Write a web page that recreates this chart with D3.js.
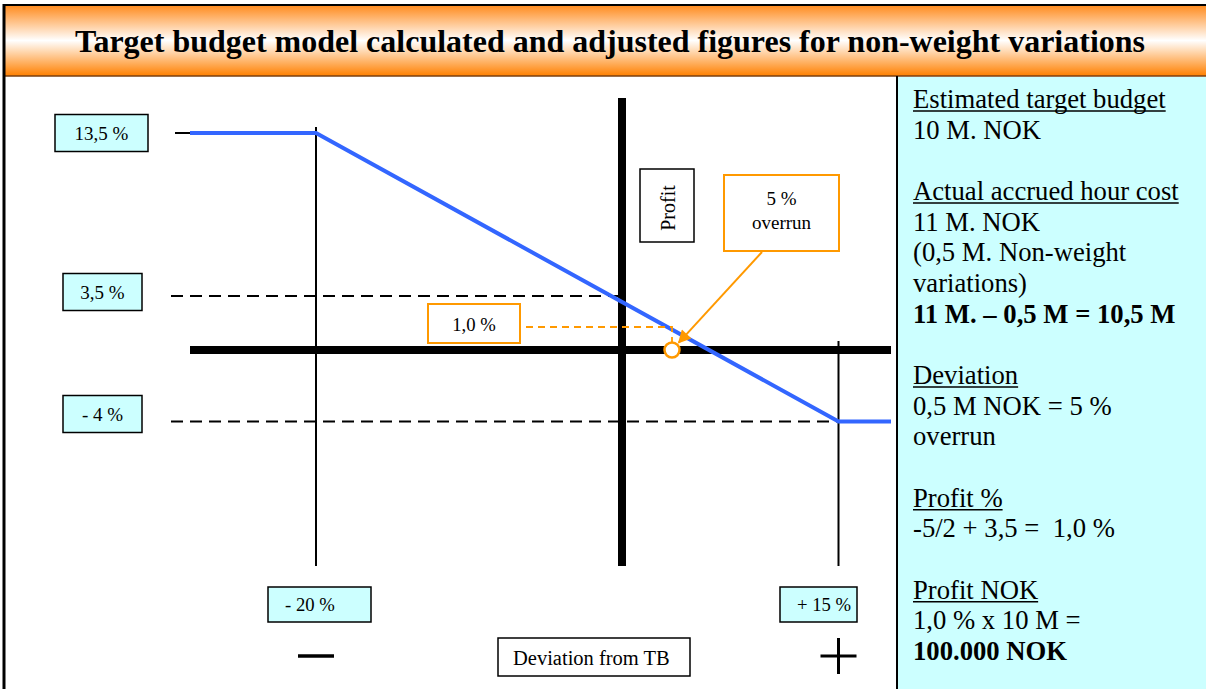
<!DOCTYPE html>
<html><head><meta charset="utf-8">
<script src="https://cdn.jsdelivr.net/npm/d3@7"></script>
<style>
body{margin:0;background:#fff}
svg{display:block}
text{font-family:"Liberation Serif","Times New Roman",Times,"DejaVu Serif",serif;white-space:pre}
</style>
</head><body>
<svg id="c" width="1206" height="689"></svg>
<script>
// ---------------- data ----------------
const titleText = "Target budget model calculated and adjusted figures for non-weight variations";
const profitLineX = [-28, -20, 15, 18.5];     // deviation from TB (%)
const profitLineY = [13.5, 13.5, -4, -4];     // profit (%)
const yLabelValues = [13.5, 3.5, -4];
const yLabelTexts = ["13,5 %", "3,5 %", "- 4 %"];
const xLabelValues = [-20, 15];
const xLabelTexts = ["- 20 %", "+ 15 %"];
const actualDeviation = 5;
const actualProfit = 1.0;
const actualProfitText = "1,0 %";
const overrunTexts = ["5 %", "overrun"];
const yAxisTitle = "Profit";
const xAxisTitle = "Deviation from TB";
const panelHeadings = ["Estimated target budget", "Actual accrued hour cost", "Deviation", "Profit %", "Profit NOK"];
const panelBodies = [
  ["10 M. NOK"],
  ["11 M. NOK", "(0,5 M. Non-weight", "variations)", "11 M. \u2013 0,5 M = 10,5 M"],
  ["0,5 M NOK = 5 %", "overrun"],
  ["-5/2 + 3,5 =  1,0 %"],
  ["1,0 % x 10 M =", "100.000 NOK"]
];
const panelBoldLines = ["11 M. \u2013 0,5 M = 10,5 M", "100.000 NOK"];

// ---------------- layout ----------------
const W = 1206, H = 689;
const svg = d3.select("#c");
const orange = "#FF9900", blue = "#3366FF", cyan = "#CCFFFF";

const x = d3.scaleLinear().domain([-28, -20, 0, 5, 15, 18.5]).range([190, 316, 622, 672, 838.5, 891]);
const y = d3.scaleLinear().domain([-4, 0, 1, 3.5, 13.5]).range([421.5, 350, 327, 296, 133]);
const plotTop = 98, plotBottom = 566;

// defs
const defs = svg.append("defs");
const g = defs.append("linearGradient").attr("id","tg").attr("x1",0).attr("y1",0).attr("x2",0).attr("y2",1);
g.append("stop").attr("offset","0%").attr("stop-color","#FF8A1C");
g.append("stop").attr("offset","50%").attr("stop-color","#FFFFFF");
g.append("stop").attr("offset","100%").attr("stop-color","#FF8000");
defs.append("marker").attr("id","arr").attr("viewBox","0 0 10 10").attr("refX",9).attr("refY",5)
  .attr("markerWidth",15).attr("markerHeight",13).attr("markerUnits","userSpaceOnUse").attr("orient","auto")
  .append("path").attr("d","M0,0 L10,5 L0,10 z").attr("fill",orange);

// title band
svg.append("rect").attr("x",4).attr("y",5).attr("width",W-4).attr("height",71).attr("fill","url(#tg)");
svg.append("line").attr("x1",4).attr("x2",W).attr("y1",5).attr("y2",5).attr("stroke","#000").attr("stroke-width",2);
svg.append("line").attr("x1",4).attr("x2",W).attr("y1",76).attr("y2",76).attr("stroke","#7a3f10").attr("stroke-width",1.5);
svg.append("text").attr("x",610).attr("y",52).attr("text-anchor","middle")
  .attr("font-size",32).attr("font-weight","bold").attr("textLength",1070).attr("lengthAdjust","spacingAndGlyphs")
  .text(titleText);
// left border
svg.append("line").attr("x1",4).attr("x2",4).attr("y1",4).attr("y2",H).attr("stroke","#000").attr("stroke-width",3);

// right panel
svg.append("rect").attr("x",897).attr("y",77).attr("width",W-897).attr("height",H-77).attr("fill",cyan);
svg.append("line").attr("x1",897).attr("x2",897).attr("y1",76).attr("y2",H).attr("stroke","#000").attr("stroke-width",2);

const lh = 30.67, fs = 26.67, px = 913, py0 = 108;
let li = 0;
panelHeadings.forEach((h, i) => {
  const t = svg.append("text").attr("x",px).attr("y",py0+li*lh).attr("font-size",fs).text(h);
  const w = t.node().getComputedTextLength();
  svg.append("line").attr("x1",px).attr("x2",px+w).attr("y1",py0+li*lh+3).attr("y2",py0+li*lh+3)
    .attr("stroke","#000").attr("stroke-width",1.5);
  li++;
  panelBodies[i].forEach(s => {
    svg.append("text").attr("x",px).attr("y",py0+li*lh).attr("font-size",fs)
      .attr("font-weight", panelBoldLines.includes(s) ? "bold" : "normal").text(s);
    li++;
  });
  li++;
});

// guide dashed lines
svg.append("line").attr("x1",171).attr("x2",x(0)).attr("y1",y(3.5)).attr("y2",y(3.5))
  .attr("stroke","#000").attr("stroke-width",1.8).attr("stroke-dasharray","12,7");
svg.append("line").attr("x1",171).attr("x2",x(15)).attr("y1",y(-4)).attr("y2",y(-4))
  .attr("stroke","#000").attr("stroke-width",1.8).attr("stroke-dasharray","12,7");

// thin verticals
svg.append("line").attr("x1",x(-20)).attr("x2",x(-20)).attr("y1",y(13.5)-6).attr("y2",plotBottom).attr("stroke","#000").attr("stroke-width",2);
svg.append("line").attr("x1",x(15)).attr("x2",x(15)).attr("y1",y(0)-9).attr("y2",plotBottom).attr("stroke","#000").attr("stroke-width",2);
// tick at 13.5
svg.append("line").attr("x1",175).attr("x2",x(-28)).attr("y1",y(13.5)).attr("y2",y(13.5)).attr("stroke","#000").attr("stroke-width",2);

// thick axes
svg.append("line").attr("x1",x(0)).attr("x2",x(0)).attr("y1",plotTop).attr("y2",plotBottom).attr("stroke","#000").attr("stroke-width",8);
svg.append("line").attr("x1",x(-28)).attr("x2",x(18.5)).attr("y1",y(0)).attr("y2",y(0)).attr("stroke","#000").attr("stroke-width",8);

// profit line
const pts = profitLineX.map((d,i)=>[x(d), y(profitLineY[i])]);
svg.append("path").attr("d", d3.line()(pts)).attr("fill","none").attr("stroke",blue).attr("stroke-width",4);

// label boxes (y)
const yBox = [{x:55,w:93,dy:0},{x:63,w:79,dy:-4},{x:63,w:79,dy:-7.5}];
yLabelValues.forEach((v,i)=>{
  const b = yBox[i], h = 37, cy = y(v)+b.dy;
  svg.append("rect").attr("x",b.x).attr("y",cy-h/2).attr("width",b.w).attr("height",h)
    .attr("fill",cyan).attr("stroke","#000").attr("stroke-width",1.5);
  svg.append("text").attr("x",b.x+b.w/2).attr("y",cy+7).attr("text-anchor","middle").attr("font-size",19).text(yLabelTexts[i]);
});
// label boxes (x)
const xBox = [{dx:-48,w:103},{dx:-58.5,w:77}];
xLabelValues.forEach((v,i)=>{
  const b = xBox[i], bx = x(v)+b.dx;
  svg.append("rect").attr("x",bx).attr("y",587).attr("width",b.w).attr("height",35)
    .attr("fill",cyan).attr("stroke","#000").attr("stroke-width",1.5);
  svg.append("text").attr("x",bx+17).attr("y",611).attr("font-size",18.67).text(xLabelTexts[i]);
});

// minus / plus signs
svg.append("line").attr("x1",x(-20)-18).attr("x2",x(-20)+18).attr("y1",656).attr("y2",656).attr("stroke","#000").attr("stroke-width",3.5);
svg.append("line").attr("x1",x(15)-18).attr("x2",x(15)+18).attr("y1",656).attr("y2",656).attr("stroke","#000").attr("stroke-width",3);
svg.append("line").attr("x1",x(15)).attr("x2",x(15)).attr("y1",638).attr("y2",674).attr("stroke","#000").attr("stroke-width",3);

// x axis title box
svg.append("rect").attr("x",498).attr("y",638).attr("width",192).attr("height",38).attr("fill","#fff").attr("stroke","#000").attr("stroke-width",1.5);
svg.append("text").attr("x",513).attr("y",665).attr("font-size",20.5).text(xAxisTitle);

// y axis title box
svg.append("rect").attr("x",640).attr("y",169).attr("width",54).attr("height",73).attr("fill","#fff").attr("stroke","#000").attr("stroke-width",1.5);
svg.append("text").attr("transform","translate(675,208) rotate(-90)").attr("text-anchor","middle").attr("font-size",20).text(yAxisTitle);

// actual profit dashed leader
svg.append("path").attr("d",`M526,${y(actualProfit)} H${x(actualDeviation)} V${y(0)-7}`)
  .attr("fill","none").attr("stroke",orange).attr("stroke-width",1.8).attr("stroke-dasharray","7,5");
svg.append("rect").attr("x",428).attr("y",304).attr("width",92).attr("height",39).attr("fill","#fff").attr("stroke",orange).attr("stroke-width",2);
svg.append("text").attr("x",474).attr("y",331).attr("text-anchor","middle").attr("font-size",18.67).text(actualProfitText);

// overrun box and arrow
svg.append("rect").attr("x",724).attr("y",175).attr("width",115).attr("height",76).attr("fill","#fff").attr("stroke",orange).attr("stroke-width",2);
overrunTexts.forEach((t,i)=>svg.append("text").attr("x",781.5).attr("y",205+i*24).attr("text-anchor","middle").attr("font-size",19).text(t));
const tx = x(actualDeviation), ty = y(0), sx = 762, sy = 252;
const ang = Math.atan2(ty-sy, tx-sx), back = 10;
svg.append("line").attr("x1",sx).attr("y1",sy).attr("x2",tx-back*Math.cos(ang)).attr("y2",ty-back*Math.sin(ang))
  .attr("stroke",orange).attr("stroke-width",2).attr("marker-end","url(#arr)");

// actual point
svg.append("circle").attr("cx",x(actualDeviation)).attr("cy",y(0)).attr("r",7.5)
  .attr("fill","#fff").attr("stroke",orange).attr("stroke-width",2.5);
</script>
</body></html>
